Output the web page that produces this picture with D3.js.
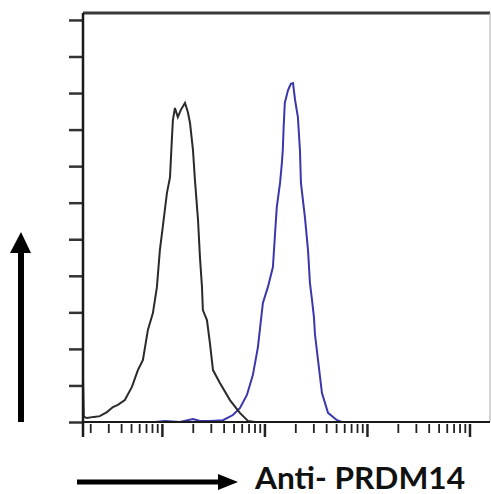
<!DOCTYPE html>
<html>
<head>
<meta charset="utf-8">
<script src="https://cdn.jsdelivr.net/npm/d3@7"></script>
<style>
  body { margin: 0; background: #fff; }
  svg { display: block; }
</style>
</head>
<body>
<div id="chart"></div>
<script>
// isotype control histogram (black)
var controlFl = [1.70, 1.70, 1.73, 1.85, 2.17, 2.48, 2.91, 3.33, 3.72, 4.35, 5.10, 5.83, 6.53, 7.30, 8.17,
  8.94, 9.56, 10.2, 11.2, 12.0, 12.5, 12.8, 13.4, 14.3, 15.3, 16.8, 17.9, 18.8, 20.1, 21.0, 22.5,
  23.5, 24.6, 25.1, 27.5, 29.4, 31.5, 36.8, 46.1, 57.6, 69.0, 80.8];
var controlCount = [0, 1.20, 0.14, 0.11, 0.14, 0.16, 0.27, 0.41, 0.47, 0.60, 0.96, 1.42, 1.70, 2.52, 2.98,
  3.69, 4.71, 5.34, 6.27, 6.70, 7.72, 8.26, 8.59, 8.34, 8.54, 8.73, 8.48, 8.18, 7.44, 6.62, 5.53,
  4.51, 3.69, 3.06, 2.79, 2.16, 1.42, 1.07, 0.60, 0.25, 0.03, 0];

// anti-PRDM14 histogram (blue)
var prdmFl = [8.55, 10.7, 15.0, 20.1, 23.5, 29.4, 39.4, 49.3, 57.6, 67.5, 77.2, 86.4, 96.6, 108,
  121, 127, 132, 142, 148, 151, 154, 158, 170, 181, 190, 199, 212, 222, 227, 248, 266, 278,
  291, 304, 311, 333, 364, 417, 510, 570];
var prdmCount = [0, 0.03, 0, 0.08, 0.03, 0.03, 0.05, 0.19, 0.38, 0.74, 1.29, 2.05, 3.26, 3.69,
  4.24, 5.17, 5.88, 6.54, 7.09, 7.44, 8.07, 8.73, 9.08, 9.25, 9.27, 8.81, 8.34, 7.44, 6.54, 5.61, 4.71, 3.80,
  3.34, 2.87, 2.40, 1.70, 0.79, 0.25, 0.05, 0];

var xDomain = [1.70, 15850];
var yDomain = [0, 11.19];
var yTicks = [0, 1, 2, 3, 4, 5, 6, 7, 8, 9, 10, 11];
var decades = [10, 100, 1000, 10000];
var minorSteps = [2, 3, 4, 5, 6, 7, 8, 9];
var xLabel = "Anti- PRDM14";

var W = 491, H = 494;
var margin = { top: 13, right: 1, bottom: 72, left: 83 };
var width = W - margin.left - margin.right,
    height = H - margin.top - margin.bottom;

var svg = d3.select("#chart").append("svg")
  .attr("width", W)
  .attr("height", H);

var g = svg.append("g")
  .attr("transform", "translate(" + margin.left + "," + margin.top + ")");

var x = d3.scaleLog().domain(xDomain).range([0, width]);
var y = d3.scaleLinear().domain(yDomain).range([height, 0]);

// minor ticks 2..9 of every decade that falls in the domain
var minorTicks = [];
[1, 10, 100, 1000, 10000].forEach(function(d) {
  minorSteps.forEach(function(s) {
    var v = d * s;
    if (v >= xDomain[0] && v <= xDomain[1]) minorTicks.push(v);
  });
});

// frame: top and right
g.append("line")
  .attr("x1", 0).attr("x2", width)
  .attr("y1", 0).attr("y2", 0)
  .attr("stroke", "#3a3a3a").attr("stroke-width", 3);
g.append("line")
  .attr("x1", width).attr("x2", width)
  .attr("y1", 0).attr("y2", height)
  .attr("stroke", "#aaa").attr("stroke-width", 1);

// y axis
var yAxis = d3.axisLeft(y).tickValues(yTicks).tickSize(14).tickFormat("");
var yg = g.append("g").attr("class", "y-axis").call(yAxis);
yg.select(".domain").remove();
yg.selectAll(".tick line").attr("stroke", "#333").attr("stroke-width", 2.5);

// x axis: minor + major ticks
var xMinor = d3.axisBottom(x).tickValues(minorTicks).tickSize(11).tickFormat("");
var xg1 = g.append("g").attr("transform", "translate(0," + height + ")").call(xMinor);
xg1.select(".domain").remove();
xg1.selectAll(".tick line").attr("stroke", "#222").attr("stroke-width", 1.8)
  .attr("y1", 2);

var xMajor = d3.axisBottom(x).tickValues(decades).tickSize(15).tickFormat("");
var xg2 = g.append("g").attr("transform", "translate(0," + height + ")").call(xMajor);
xg2.select(".domain").remove();
xg2.selectAll(".tick line").attr("stroke", "#222").attr("stroke-width", 2.5)
  .attr("y1", 2);

// histograms
var line = d3.line()
  .x(function(d) { return x(d[0]); })
  .y(function(d) { return y(d[1]); });

var controlData = controlFl.map(function(v, i) { return [v, controlCount[i]]; });
var prdmData = prdmFl.map(function(v, i) { return [v, prdmCount[i]]; });

g.append("path")
  .datum(prdmData)
  .attr("fill", "none")
  .attr("stroke", "#3838ac")
  .attr("stroke-width", 2)
  .attr("d", line);

g.append("path")
  .datum(controlData)
  .attr("fill", "none")
  .attr("stroke", "#2a2a2a")
  .attr("stroke-width", 2)
  .attr("d", line);

// axis lines on top
g.append("line")
  .attr("x1", 0).attr("x2", width)
  .attr("y1", height).attr("y2", height)
  .attr("stroke", "#1a1a1a").attr("stroke-width", 2);
g.append("line")
  .attr("x1", 0).attr("x2", 0)
  .attr("y1", 0).attr("y2", height + 15)
  .attr("stroke", "#1a1a1a").attr("stroke-width", 2.5);

// vertical arrow (count)
svg.append("path")
  .attr("d", "M18.5,467 L18.5,422 L24,422 Z")
  .remove();
svg.append("rect")
  .attr("x", 18).attr("y", 250).attr("width", 6).attr("height", 172)
  .attr("fill", "#000");
svg.append("path")
  .attr("d", "M10,253 L21,232 L31,253 Z")
  .attr("fill", "#000");

// horizontal arrow (fluorescence)
svg.append("rect")
  .attr("x", 77).attr("y", 479.5).attr("width", 144).attr("height", 5)
  .attr("fill", "#000");
svg.append("path")
  .attr("d", "M218,474 L238,482 L218,490 Z")
  .attr("fill", "#000");

svg.append("text")
  .attr("x", 255).attr("y", 489)
  .attr("font-family", "Lato, 'Open Sans', sans-serif")
  .attr("font-weight", "bold")
  .attr("font-size", 30)
  .attr("textLength", 210)
  .attr("lengthAdjust", "spacingAndGlyphs")
  .attr("fill", "#111")
  .text(xLabel);
</script>
</body>
</html>
